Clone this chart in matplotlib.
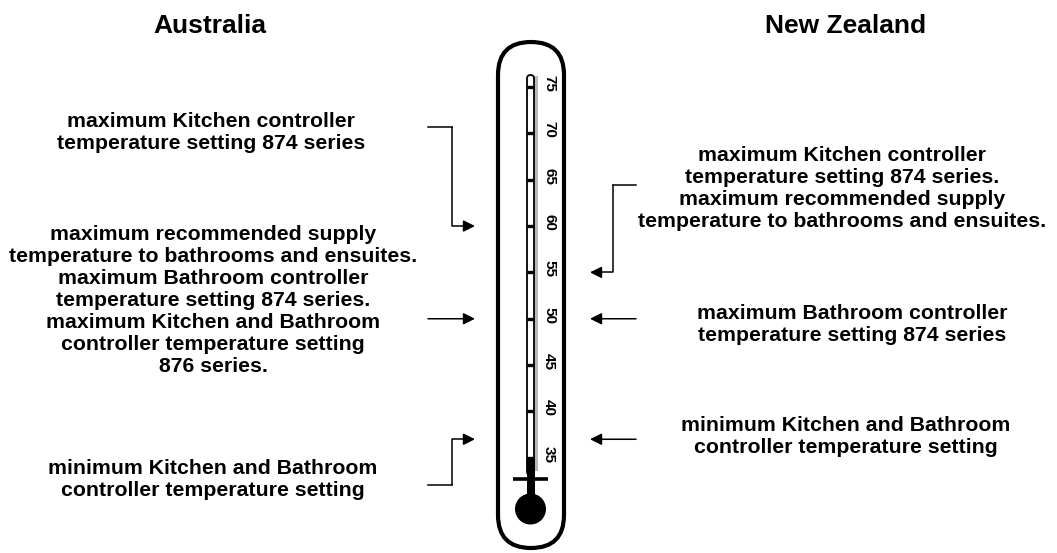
import matplotlib
matplotlib.use("Agg")
import matplotlib.pyplot as plt
from matplotlib.patches import FancyBboxPatch, Circle, Rectangle
from matplotlib.transforms import offset_copy

plt.rcParams['font.family'] = ['Liberation Sans', 'DejaVu Sans']

# ---------------- data ----------------
titles = ["Australia", "New Zealand"]
scale_temps = [35, 40, 45, 50, 55, 60, 65, 70, 75]
mercury_level = 35

au_blocks = [
    ["maximum Kitchen controller", "temperature setting 874 series"],
    ["maximum recommended supply", "temperature to bathrooms and ensuites.",
     "maximum Bathroom controller", "temperature setting 874 series.",
     "maximum Kitchen and Bathroom", "controller temperature setting",
     "876 series."],
    ["minimum Kitchen and Bathroom", "controller temperature setting"],
]
au_targets = [60, 50, 37]

nz_blocks = [
    ["maximum Kitchen controller", "temperature setting 874 series.",
     "maximum recommended supply", "temperature to bathrooms and ensuites."],
    ["maximum Bathroom controller", "temperature setting 874 series"],
    ["minimum Kitchen and Bathroom", "controller temperature setting"],
]
nz_targets = [55, 50, 37]

# ---------------- figure ----------------
W, H = 1057, 553
fig = plt.figure(figsize=(W / 100, H / 100), dpi=100)
ax = fig.add_axes([0, 0, 1, 1])
ax.set_xlim(0, W)
ax.set_ylim(H, 0)
ax.axis('off')

# temperature axes overlaid (same x in pixels, y in degrees)
tax = fig.add_axes([0, 0, 1, 1], sharex=ax)
tax.set_ylim(24.73, 84.385)
tax.axis('off')
tax.patch.set_alpha(0)

# ---------------- thermometer body ----------------
ax.add_patch(FancyBboxPatch((498, 42), 66, 506,
                            boxstyle="round,pad=0,rounding_size=33",
                            fc='white', ec='black', lw=3.0, zorder=1))
# glass tube
ax.add_patch(Rectangle((534, 76), 3.5, 395, fc='#b8b8b8', ec='none', zorder=2))
ax.add_patch(FancyBboxPatch((527, 75), 7, 400,
                            boxstyle="round,pad=0,rounding_size=3.5",
                            fc='white', ec='black', lw=1.3, zorder=3))
# mercury
tax.bar(530.5, mercury_level - 29, bottom=29, width=8, color='black', zorder=4)
# cross bar and bulb
ax.plot([513, 548], [479, 479], color='black', lw=2.6, solid_capstyle='butt', zorder=5)
ax.add_patch(Circle((530.5, 509), 15.5, fc='black', ec='none', zorder=5))

# scale ticks and labels
tax.hlines(scale_temps, 527, 534, colors='black', lw=2.4, zorder=5)
lab_tr = offset_copy(tax.transData, fig=fig, x=0, y=3.5, units='dots')
for t in scale_temps:
    tax.text(549, t, str(t), transform=lab_tr, rotation=-90, ha='center',
             va='center', fontsize=11, fontweight='bold', zorder=6)

# ---------------- titles ----------------
for name, x in zip(titles, [210, 846]):
    ax.text(x, 33, name, ha='center', va='baseline', fontsize=19,
            fontweight='bold')

# ---------------- text blocks ----------------
def draw_block(lines, xc, y0, pitch=22):
    for i, s in enumerate(lines):
        ax.text(xc, y0 + i * pitch, s, ha='center', va='baseline',
                fontsize=15.3, fontweight='bold')

for lines, xc, y0 in zip(au_blocks, [211, 213, 213], [127, 240, 474]):
    draw_block(lines, xc, y0)
for lines, xc, y0 in zip(nz_blocks, [842, 852, 846], [161, 319, 431]):
    draw_block(lines, xc, y0)

# ---------------- arrows ----------------
aprops = dict(arrowstyle='-|>,head_length=0.7,head_width=0.35',
              color='black', lw=1.1, mutation_scale=10,
              shrinkA=0, shrinkB=0)

def straight_arrow(x0, x1, t):
    tax.annotate('', xy=(x1, t), xycoords='data', xytext=(x0, t),
                 textcoords='data', arrowprops=aprops)

def bent_arrow(x_start, y_start, x_corner, x_tip, t):
    ax.plot([x_start, x_corner], [y_start, y_start], color='black', lw=1.1)
    tax.annotate('', xy=(x_tip, t), xycoords=tax.transData,
                 xytext=(x_corner, y_start), textcoords=ax.transData,
                 arrowprops=dict(aprops,
                                 connectionstyle='angle,angleA=90,angleB=0,rad=0'))

# Australia (left)
bent_arrow(428, 127, 452, 475, au_targets[0])
straight_arrow(428, 475, au_targets[1])
bent_arrow(428, 485, 452, 475, au_targets[2])

# New Zealand (right)
bent_arrow(636, 185, 613, 590, nz_targets[0])
straight_arrow(636, 590, nz_targets[1])
straight_arrow(636, 590, nz_targets[2])

fig.savefig('out.png', dpi=100, facecolor='white')
